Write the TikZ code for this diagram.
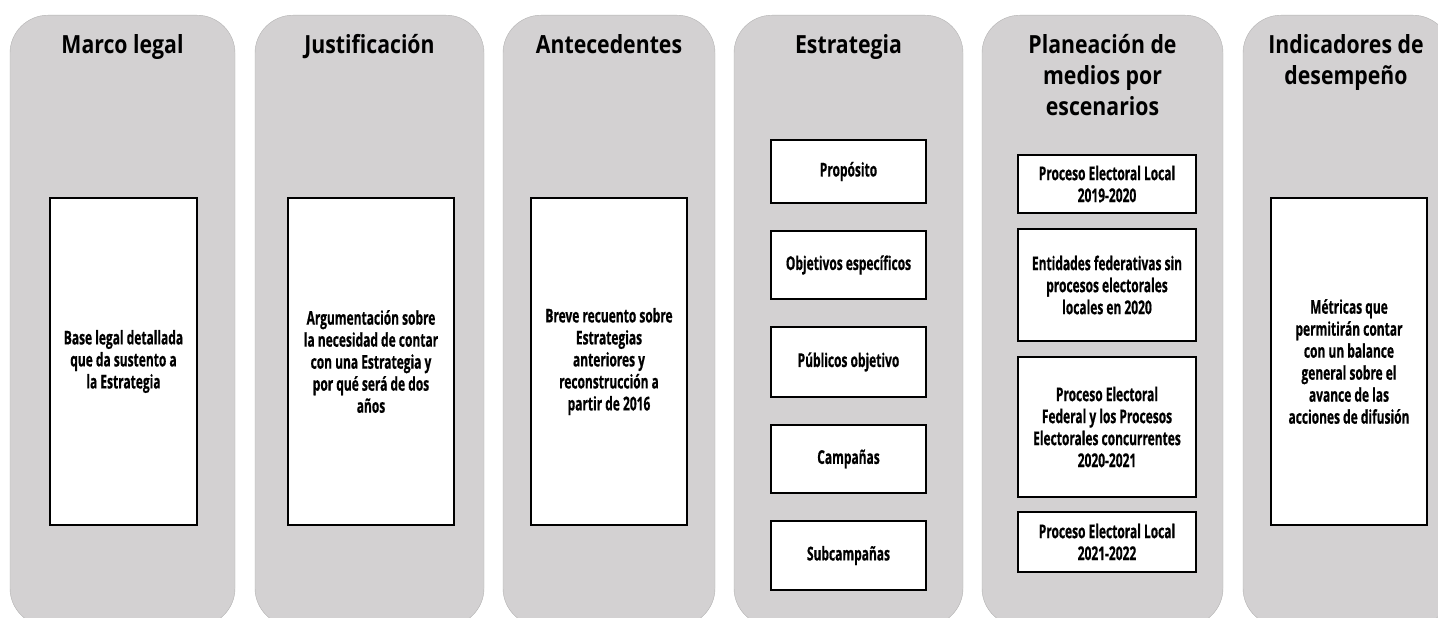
\documentclass[tikz,border=0pt]{standalone}
\usepackage{fontspec}
\setmainfont{Open Sans}
\newfontfamily\headfont{Open Sans}[FakeStretch=0.85]
\newfontfamily\bodyfont{Open Sans}[FakeStretch=0.63, FakeBold=0.6]
\usetikzlibrary{shadows}
\definecolor{colgray}{RGB}{211,209,210}
\tikzset{
  column/.style={fill=colgray, draw=colgray!85!black, line width=0.4pt,
    rounded corners=38pt, minimum height=611pt, anchor=north, inner sep=0pt},
  head/.style={anchor=north, align=center, inner sep=0pt,
    font=\headfont\bfseries\fontsize{25}{31}\selectfont},
  card/.style={draw=black, fill=white, line width=1.6pt, align=center, inner sep=2pt,
    drop shadow={shadow xshift=1pt, shadow yshift=-1pt, opacity=0.35},
    font=\bodyfont\bfseries\fontsize{19}{22}\selectfont},
}
\begin{document}
\begin{tikzpicture}[x=1pt, y=-1pt]
  \useasboundingbox (0,0) rectangle (1438,618);
  \clip (0,0) rectangle (1438,618);
  % columns
  \node[column, minimum width=225pt] (c1) at (122.5,15) {};
  \node[column, minimum width=229pt] (c2) at (369.5,15) {};
  \node[column, minimum width=212pt] (c3) at (609,15) {};
  \node[column, minimum width=229pt] (c4) at (848.5,15) {};
  \node[column, minimum width=241pt] (c5) at (1102.5,15) {};
  \node[column, minimum width=208pt] (c6) at (1347,15) {};
  % headings
  \node[head] (h1) at (122.5,34) {Marco legal};
  \node[head] (h2) at (369.5,34) {Justificación};
  \node[head] (h3) at (609,34) {Antecedentes};
  \node[head] (h4) at (848.5,34) {Estrategia};
  \node[head] (h5) at (1102.5,34) {Planeación de\\medios por\\escenarios};
  \node[head] (h6) at (1346,34) {Indicadores de\\desempeño};
  % contents
  \node[card, minimum width=147pt, minimum height=327pt] (base) at (123.5,361.5)
    {Base legal detallada\\que da sustento a\\la Estrategia};
  \node[card, minimum width=166pt, minimum height=327pt] (argu) at (371,361.5)
    {Argumentación sobre\\la necesidad de contar\\con una Estrategia y\\por qué será de dos\\años};
  \node[card, minimum width=156pt, minimum height=327pt] (breve) at (609,361.5)
    {Breve recuento sobre\\Estrategias\\anteriores y\\reconstrucción a\\partir de 2016};
  \node[card, minimum width=155pt, minimum height=63pt] (prop) at (848.5,171.5) {Propósito};
  \node[card, minimum width=155pt, minimum height=68pt] (obj) at (848.5,265) {Objetivos específicos};
  \node[card, minimum width=155pt, minimum height=70pt] (pub) at (848.5,362) {Públicos objetivo};
  \node[card, minimum width=155pt, minimum height=68pt] (camp) at (848.5,459) {Campañas};
  \node[card, minimum width=155pt, minimum height=69pt] (subc) at (848.5,555.5) {Subcampañas};
  \node[card, minimum width=178pt, minimum height=58pt] (pel1) at (1107,184)
    {Proceso Electoral Local\\2019-2020};
  \node[card, minimum width=178pt, minimum height=112pt] (ent) at (1107,285)
    {Entidades federativas sin\\procesos electorales\\locales en 2020};
  \node[card, minimum width=178pt, minimum height=140pt] (pef) at (1107,427)
    {Proceso Electoral\\Federal y los Procesos\\Electorales concurrentes\\2020-2021};
  \node[card, minimum width=178pt, minimum height=60pt] (pel2) at (1107,542)
    {Proceso Electoral Local\\2021-2022};
  \node[card, minimum width=156pt, minimum height=327pt] (metr) at (1349,361.5)
    {Métricas que\\permitirán contar\\con un balance\\general sobre el\\avance de las\\acciones de difusión};
\end{tikzpicture}
\end{document}
